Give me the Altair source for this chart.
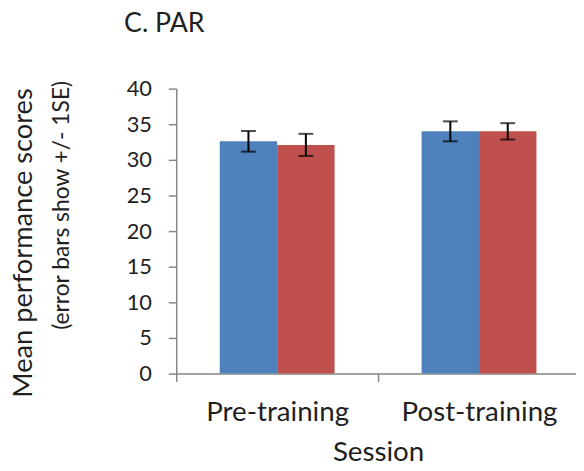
import altair as alt
import pandas as pd

sessions = ["Pre-training", "Post-training"]
groups = ["Group A", "Group B"]
means = [32.6, 32.1, 34.0, 34.0]
ses = [1.45, 1.55, 1.4, 1.15]
colors = ["#4F81BD", "#C0504D"]
y_ticks = [0, 5, 10, 15, 20, 25, 30, 35, 40]

chart_title = ["C. PAR"]
y_title = ["Mean performance scores"]
y_subtitle = ["(error bars show +/- 1SE)"]

rows = []
i = 0
for s in sessions:
    for g in groups:
        rows.append({"session": s, "group": g, "mean": means[i],
                     "lo": means[i] - ses[i], "hi": means[i] + ses[i]})
        i += 1
df = pd.DataFrame(rows)

FONT = "Lato"
TXT = "#1f1f1f"
GRAY = "#868686"

x_scale = alt.Scale(paddingInner=0, paddingOuter=0)
x_axis = alt.Axis(title="Session", labelAngle=0, tickBand="extent",
                  domainColor=GRAY, tickColor=GRAY, domainWidth=1.5,
                  tickWidth=1.5, tickSize=8, labelFont=FONT,
                  labelFontSize=28, labelColor=TXT, labelPadding=17,
                  titleFont=FONT, titleFontSize=28, titleColor=TXT,
                  titleFontWeight="normal", titlePadding=13)
y_scale = alt.Scale(domain=[0, 40], nice=False)
y_axis = alt.Axis(title=None, values=y_ticks, grid=False, labelOverlap=False,
                  domainColor=GRAY, tickColor=GRAY, domainWidth=1.5,
                  tickWidth=1.5, tickSize=8, labelFont=FONT,
                  labelFontSize=22, labelColor=TXT, labelPadding=17)
xo_scale = alt.Scale(paddingOuter=0.758, paddingInner=0)


def X():
    return alt.X("session:N", sort=sessions, scale=x_scale, axis=x_axis)


def XO():
    return alt.XOffset("group:N", sort=groups, scale=xo_scale)


bars = alt.Chart(df).mark_bar().encode(
    x=X(),
    xOffset=XO(),
    y=alt.Y("mean:Q", scale=y_scale, axis=y_axis),
    color=alt.Color("group:N", sort=groups,
                    scale=alt.Scale(domain=groups, range=colors), legend=None),
)

rules = alt.Chart(df).mark_rule(color="black", strokeWidth=2).encode(
    x=X(),
    xOffset=XO(),
    y=alt.Y("lo:Q", scale=y_scale, axis=y_axis),
    y2="hi:Q",
)
caps_lo = alt.Chart(df).mark_tick(color="black", thickness=2, size=15).encode(
    x=X(),
    xOffset=XO(),
    y=alt.Y("lo:Q", scale=y_scale, axis=y_axis),
)
caps_hi = alt.Chart(df).mark_tick(color="black", thickness=2, size=15).encode(
    x=X(),
    xOffset=XO(),
    y=alt.Y("hi:Q", scale=y_scale, axis=y_axis),
)

title_t = alt.Chart(pd.DataFrame({"t": chart_title})).mark_text(
    font=FONT, fontSize=27, color=TXT, align="center", baseline="middle"
).encode(text="t:N", x=alt.value(-12), y=alt.value(-65))

ytitle_t = alt.Chart(pd.DataFrame({"t": y_title})).mark_text(
    font=FONT, fontSize=27.5, color=TXT, align="center", baseline="middle", angle=270
).encode(text="t:N", x=alt.value(-154), y=alt.value(156))

ysub_t = alt.Chart(pd.DataFrame({"t": y_subtitle})).mark_text(
    font=FONT, fontSize=23, color=TXT, align="center", baseline="middle", angle=270
).encode(text="t:N", x=alt.value(-115), y=alt.value(118))

chart = alt.layer(bars, rules, caps_lo, caps_hi, title_t, ytitle_t, ysub_t).properties(
    width=408, height=288,
    autosize=alt.AutoSizeParams(type="none"),
    padding={"left": 170, "top": 79, "right": -4, "bottom": 96},
).configure(background="white").configure_view(strokeWidth=0)

chart.save("out.html", embed_options={"renderer": "svg", "actions": False})
